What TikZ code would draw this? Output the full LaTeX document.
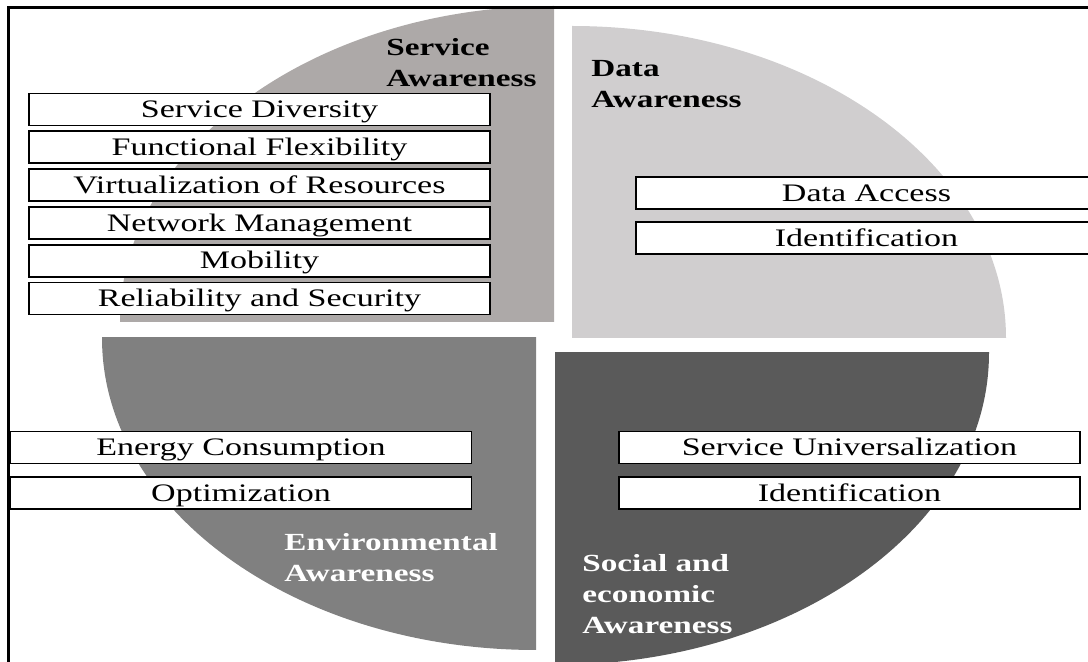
\documentclass[tikz,border=0pt]{standalone}
\usepackage{fontspec}
\setmainfont{Liberation Serif}[FakeStretch=1.35]
\usetikzlibrary{positioning}

\definecolor{svcgray}{HTML}{ADA9A8}
\definecolor{datagray}{HTML}{D0CECF}
\definecolor{envgray}{HTML}{808080}
\definecolor{socgray}{HTML}{5A5A5A}

\begin{document}
\begin{tikzpicture}[
  x=0.5pt, y=-0.5pt,
  item/.style={draw, line width=0.9pt, fill=white, inner sep=0pt,
    text height=10.5pt, text depth=2.3pt,
    minimum width=230.5pt, minimum height=16pt, font=\fontsize{12.6}{14}\selectfont},
  title/.style={align=left, anchor=west, inner sep=0pt,
    font=\fontsize{12.3}{15.5}\selectfont\bfseries}
]
\useasboundingbox (0,0) rectangle (1088,662);
\clip (0,0) rectangle (1088,662);

% quadrants
\begin{scope}
  \clip (554,322) rectangle (100,0);
  \fill[svcgray] (554,322) ellipse [x radius=434, y radius=316];
\end{scope}
\begin{scope}
  \clip (572,338) rectangle (1030,0);
  \fill[datagray] (572,338) ellipse [x radius=434, y radius=312];
\end{scope}
\begin{scope}
  \clip (536,338) rectangle (80,680);
  \fill[envgray] (536,338) ellipse [x radius=434, y radius=312];
\end{scope}
\begin{scope}
  \clip (555,353) rectangle (1010,680);
  \fill[socgray] (555,353) ellipse [x radius=434, y radius=312];
\end{scope}

% frame
\draw[line width=1.3pt] (8.5,700) |- (1100,7.5);

% headings
\node[title] (svc) at (386,62.5) {Service\\Awareness};
\node[title] (data) at (591,84) {Data\\Awareness};
\node[title, white] (env) at (284,557.5) {Environmental\\Awareness};
\node[title, white] (soc) at (582,594) {Social and\\economic\\Awareness};

% service items
\node[item] (divers) at (259.5,109.5) {Service Diversity};
\node[item] (flex) at (259.5,147.3) {Functional Flexibility};
\node[item] (virt) at (259.5,185.1) {Virtualization of Resources};
\node[item] (netm) at (259.5,222.9) {Network Management};
\node[item] (mobil) at (259.5,260.7) {Mobility};
\node[item] (relsec) at (259.5,298.5) {Reliability and Security};

% data items
\node[item] (access) at (866.5,193) {Data Access};
\node[item] (ident) at (866.5,238) {Identification};

% environmental items
\node[item] (energy) at (241,447.5) {Energy Consumption};
\node[item] (optim) at (241,493) {Optimization};

% social items
\node[item] (univ) at (849.5,447.5) {Service Universalization};
\node[item] (socid) at (849.5,493) {Identification};

\end{tikzpicture}
\end{document}
